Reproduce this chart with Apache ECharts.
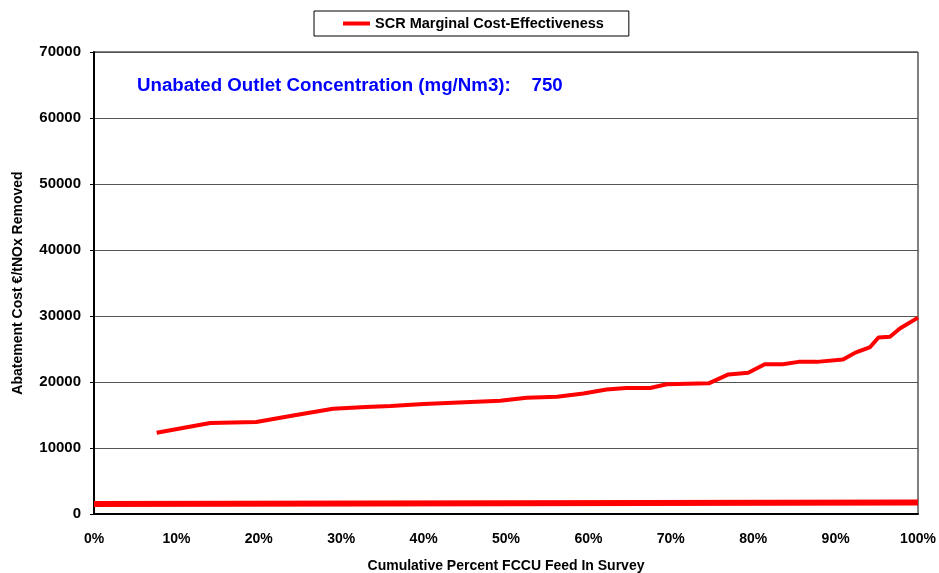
<!DOCTYPE html>
<html>
<head>
<meta charset="utf-8">
<script src="https://cdn.jsdelivr.net/npm/echarts@6/dist/echarts.min.js"></script>
<style>
  html, body { margin: 0; padding: 0; background: #fff; }
  #chart { width: 939px; height: 573px; }
</style>
</head>
<body>
<div id="chart"></div>
<script>
// marginal cost curve
const feedPct = [7.6, 14.1, 19.7, 24, 29, 33, 36, 40, 45, 49.3, 52.5, 56.2, 59.4, 62.2, 64.6, 67.5, 69.5, 74.6, 77, 79.4, 81.4, 83.6, 85.5, 87.7, 90.9, 92.4, 94.2, 95.2, 96.6, 97.8, 100];
const costEur = [12300, 13800, 13950, 14900, 15950, 16200, 16350, 16650, 16950, 17150, 17600, 17750, 18250, 18850, 19100, 19100, 19650, 19800, 21150, 21400, 22700, 22700, 23050, 23050, 23400, 24450, 25300, 26750, 26850, 28100, 29750];
// flat baseline at the bottom
const basePct = [0, 100];
const baseCost = [1500, 1750];
const yTicks = [0, 10000, 20000, 30000, 40000, 50000, 60000, 70000];

const seriesName = "SCR Marginal Cost-Effectiveness";
const font = "Liberation Sans";

const chart = echarts.init(document.getElementById("chart"), null, { renderer: "canvas" });
chart.setOption({
  animation: false,
  textStyle: { fontFamily: font },
  grid: {
    left: 94, right: 21, top: 52, bottom: 59,
    outerBoundsMode: "none",
    containLabel: false,
    show: true, borderColor: "#000", borderWidth: 1,
  },
  legend: {
    data: [{ name: seriesName, icon: "rect" }],
    top: 11,
    left: 314,
    itemWidth: 27,
    itemHeight: 4,
    itemGap: 6,
    padding: [5, 25, 5, 29],
    borderColor: "#000",
    borderWidth: 1,
    textStyle: { fontFamily: font, fontWeight: "bold", fontSize: 14.5, color: "#000" },
  },
  graphic: [
    {
      type: "text",
      left: 137,
      top: 76,
      style: {
        text: "Unabated Outlet Concentration (mg/Nm3):    750",
        fill: "#0000ff",
        fontFamily: font,
        fontWeight: "bold",
        fontSize: 18.7,
      },
    },
  ],
  xAxis: {
    type: "value",
    min: 0,
    max: 100,
    interval: 10,
    name: "Cumulative Percent FCCU Feed In Survey",
    nameLocation: "middle",
    nameGap: 45,
    nameTextStyle: { fontWeight: "bold", fontSize: 14, color: "#000" },
    axisLine: { show: true, onZero: false, lineStyle: { color: "#000", width: 2 } },
    axisTick: { show: false },
    axisLabel: { formatter: "{value}%", fontWeight: "bold", fontSize: 14, color: "#000", margin: 18 },
    splitLine: { show: false },
  },
  yAxis: {
    type: "value",
    min: yTicks[0],
    max: yTicks[yTicks.length - 1],
    interval: 10000,
    name: "Abatement Cost €/tNOx Removed",
    nameLocation: "middle",
    nameGap: 69,
    nameTextStyle: { fontWeight: "bold", fontSize: 14, color: "#000" },
    axisLine: { show: true, lineStyle: { color: "#000", width: 2 } },
    axisTick: { show: true, length: 4, lineStyle: { color: "#000" } },
    axisLabel: { formatter: (v) => String(v), fontWeight: "bold", fontSize: 15, color: "#000", margin: 13 },
    splitLine: { show: true, lineStyle: { color: "#555", width: 1 } },
  },
  series: [
    {
      name: seriesName,
      type: "line",
      data: feedPct.map((x, i) => [x, costEur[i]]),
      showSymbol: false,
      symbol: "none",
      lineStyle: { color: "#ff0000", width: 4 },
      itemStyle: { color: "#ff0000" },
      z: 3,
    },
    {
      name: "baseline",
      type: "line",
      data: basePct.map((x, i) => [x, baseCost[i]]),
      showSymbol: false,
      symbol: "none",
      lineStyle: { color: "#ff0000", width: 6 },
      itemStyle: { color: "#ff0000" },
      z: 3,
    },
  ],
});
</script>
</body>
</html>
